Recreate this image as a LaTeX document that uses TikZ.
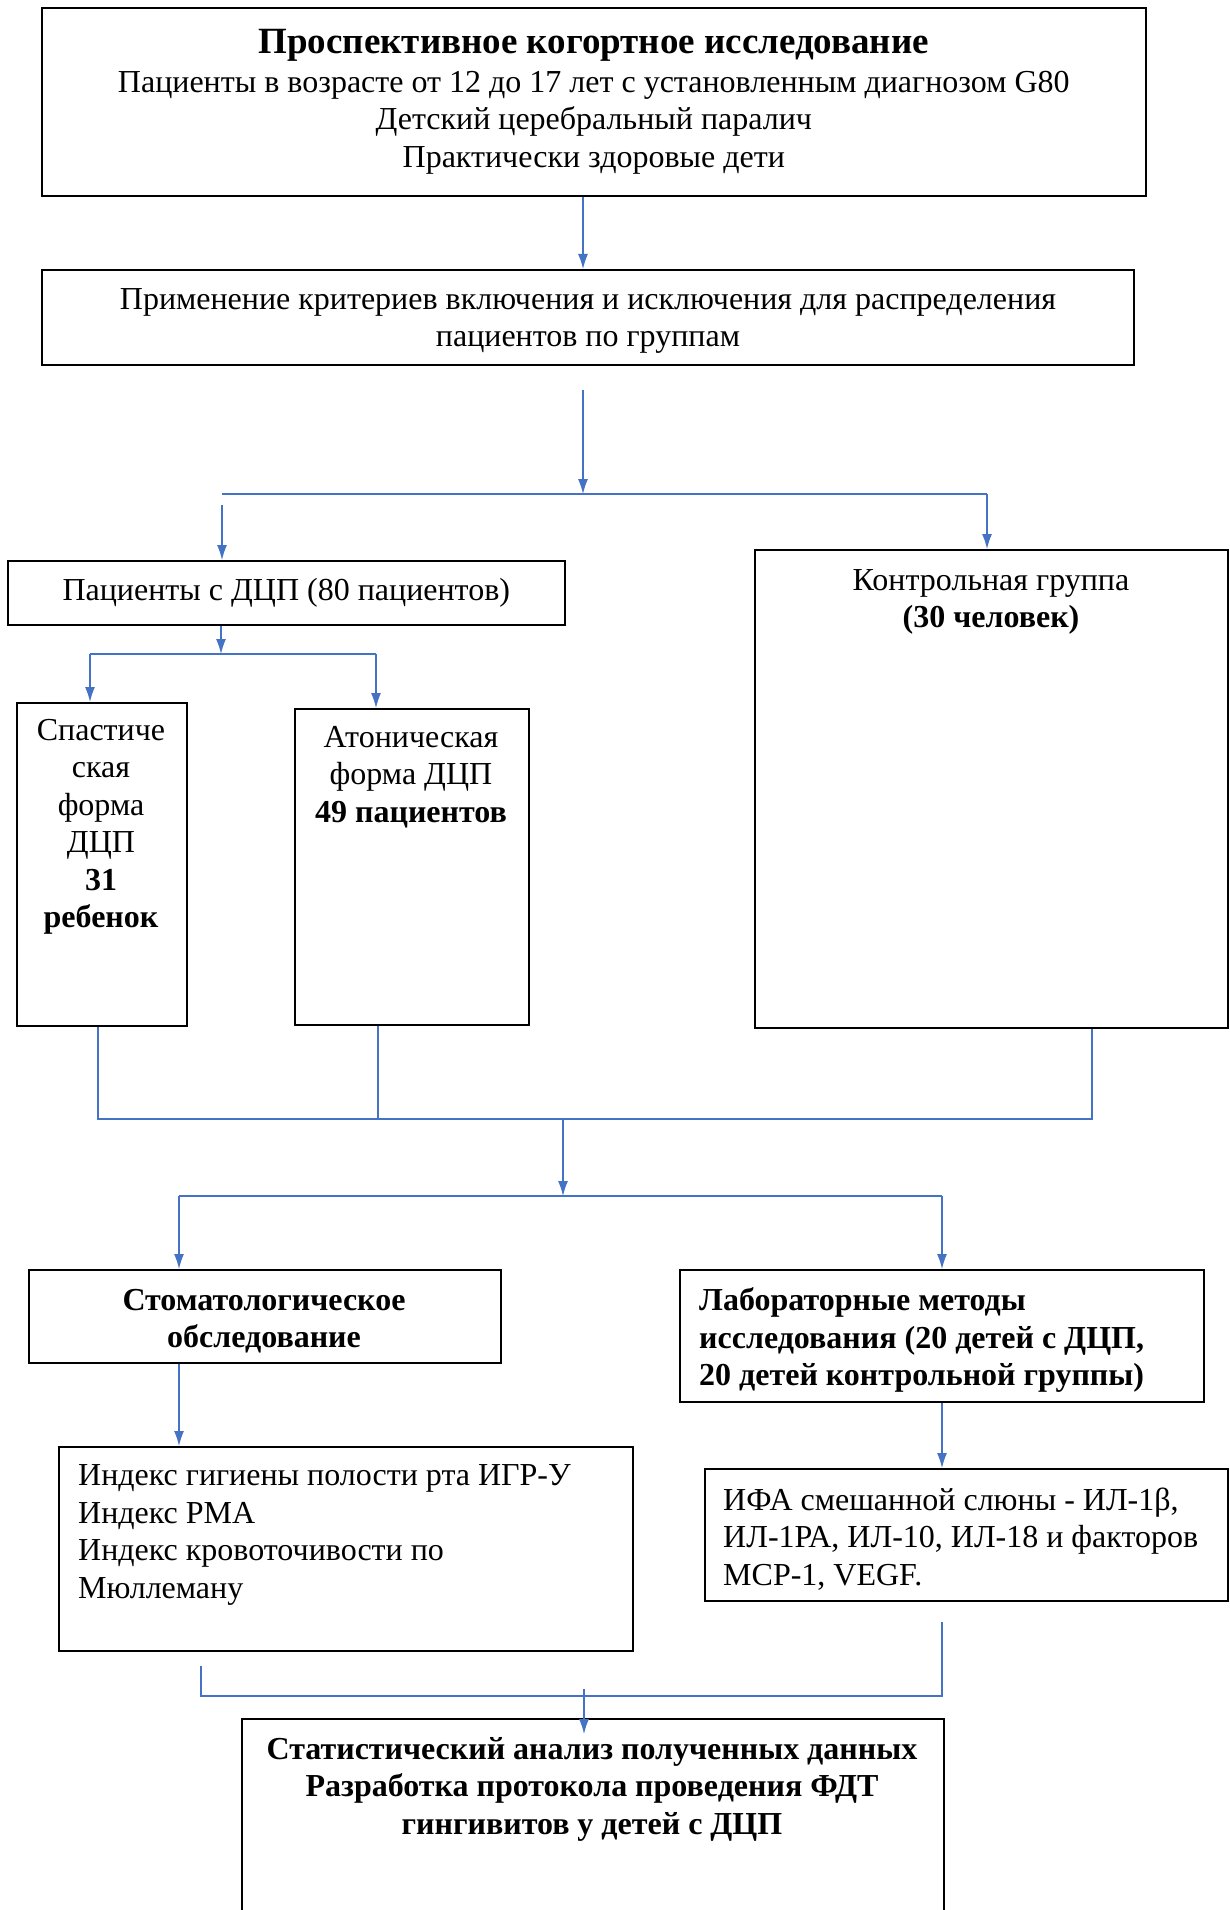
\documentclass[tikz,border=0pt]{standalone}
\usepackage{fontspec}
\setmainfont{Liberation Serif}
\usetikzlibrary{arrows.meta}
\definecolor{conn}{HTML}{4472C4}
\newcommand\myfs{\fontsize{32}{37.5}\selectfont}
\newcommand\mytitlefs{\fontsize{37}{37.5}\selectfont}
\begin{document}
\begin{tikzpicture}[x=1pt,y=-1pt,
  box/.style={draw=black, line width=1.6pt, rectangle, inner sep=0pt, anchor=north west, align=center, font=\myfs},
  lbl/.style={inner sep=0pt, font=\myfs},
  arr/.style={draw=conn, line width=1.3pt, -{Latex[length=15pt,width=10pt]}},
  ln/.style={draw=conn, line width=1.3pt}]
\useasboundingbox (0,0) rectangle (1229,1910);
% boxes
\node[box, minimum width=1104pt, minimum height=188pt] (b1) at (41,7)
  {{\mytitlefs\bfseries Проспективное когортное исследование}\\[1pt]
   Пациенты в возрасте от 12 до 17 лет с установленным диагнозом G80\\
   Детский церебральный паралич\\
   Практически здоровые дети};
\node[box, minimum width=1092pt, minimum height=95pt] (b2) at (41,269) {};
\node[box, minimum width=557pt, minimum height=64pt] (p) at (7,560)
  {Пациенты с ДЦП (80 пациентов)};
\node[box, minimum width=473pt, minimum height=478pt] (ctrl) at (754,549) {};
\node[box, minimum width=170pt, minimum height=323pt] (sp) at (16,702) {};
\node[box, minimum width=234pt, minimum height=316pt] (at) at (294,708) {};
\node[box, minimum width=472pt, minimum height=93pt] (st) at (28,1269) {};
\node[box, minimum width=524pt, minimum height=132pt] (lab) at (679,1269) {};
\node[box, minimum width=574pt, minimum height=204pt] (idx) at (58,1446) {};
\node[box, minimum width=523pt, minimum height=132pt] (ifa) at (704,1468) {};
\node[box, minimum width=702pt, minimum height=260pt] (fin) at (241,1718) {};
% texts
\node[lbl, align=center] (tb2) at (588,321) {Применение критериев включения и исключения для распределения\\ пациентов по группам};
\node[lbl, align=center] (tst) at (264,1321) {\bfseries Стоматологическое\\ \bfseries обследование};
\node[lbl, align=center] (tctrl) at (991,602) {Контрольная группа\\ \bfseries (30 человек)};
\node[lbl, align=center] (tsp) at (101,827) {Спастиче\\ ская\\ форма\\ ДЦП\\ \bfseries 31\\ \bfseries ребенок};
\node[lbl, align=center] (tat) at (411,777) {Атоническая\\ форма ДЦП\\ \bfseries 49 пациентов};
\node[lbl, align=left, anchor=west] (tlab) at (699,1340) {\bfseries Лабораторные методы\\ \bfseries исследования (20 детей с ДЦП,\\ \bfseries 20 детей контрольной группы)};
\node[lbl, align=left, anchor=west] (tidx) at (78,1535) {Индекс гигиены полости рта ИГР-У\\ Индекс РМА\\ Индекс кровоточивости по\\ Мюллеману};
\node[lbl, align=left, anchor=west] (tifa) at (723,1539) {ИФА смешанной слюны - ИЛ-1β,\\ ИЛ-1РА, ИЛ-10, ИЛ-18 и факторов\\ МСР-1, VEGF.};
\node[lbl, align=center] (tfin) at (592,1789) {\bfseries Статистический анализ полученных данных\\ \bfseries Разработка протокола проведения ФДТ\\ \bfseries гингивитов у детей с ДЦП};
% connectors
\coordinate (xa) at (583,0);
\draw[arr] (b1.south -| xa) -- (b2.north -| xa);
\coordinate (s1) at (583,390);
\coordinate (j1) at (583,494);
\draw[arr] (s1) -- (j1);
\coordinate (hl) at (222,494);
\coordinate (hr) at (987,494);
\draw[ln] (hl) -- (hr);
\coordinate (pl) at (222,505);
\draw[arr] (pl) -- (p.north -| pl);
\draw[arr] (hr) -- (ctrl.north -| hr);
\coordinate (xp) at (221,654);
\draw[arr] (p.south -| xp) -- (xp);
\coordinate (h2l) at (90,654);
\coordinate (h2r) at (376,654);
\draw[ln] (h2l) -- (h2r);
\draw[arr] (h2l) -- (sp.north -| h2l);
\draw[arr] (h2r) -- (at.north -| h2r);
\coordinate (m1) at (98,1119);
\coordinate (m2) at (378,1119);
\coordinate (m3) at (1092,1119);
\draw[ln] (sp.south -| m1) -- (m1) -- (m3) -- (ctrl.south -| m3);
\draw[ln] (at.south -| m2) -- (m2);
\coordinate (m0) at (563,1119);
\coordinate (n0) at (563,1196);
\draw[arr] (m0) -- (n0);
\coordinate (nl) at (179,1196);
\coordinate (nr) at (942,1196);
\draw[ln] (nl) -- (nr);
\draw[arr] (nl) -- (st.north -| nl);
\draw[arr] (nr) -- (lab.north -| nr);
\draw[arr] (st.south -| nl) -- (idx.north -| nl);
\draw[arr] (lab.south -| nr) -- (ifa.north -| nr);
\coordinate (q1) at (201,1666);
\coordinate (q2) at (201,1696);
\coordinate (q3) at (942,1696);
\coordinate (q4) at (942,1622);
\draw[ln] (q1) -- (q2) -- (q3) -- (q4);
\coordinate (r1) at (584,1689);
\coordinate (r2) at (584,1734);
\draw[arr] (r1) -- (r2);
\end{tikzpicture}
\end{document}
